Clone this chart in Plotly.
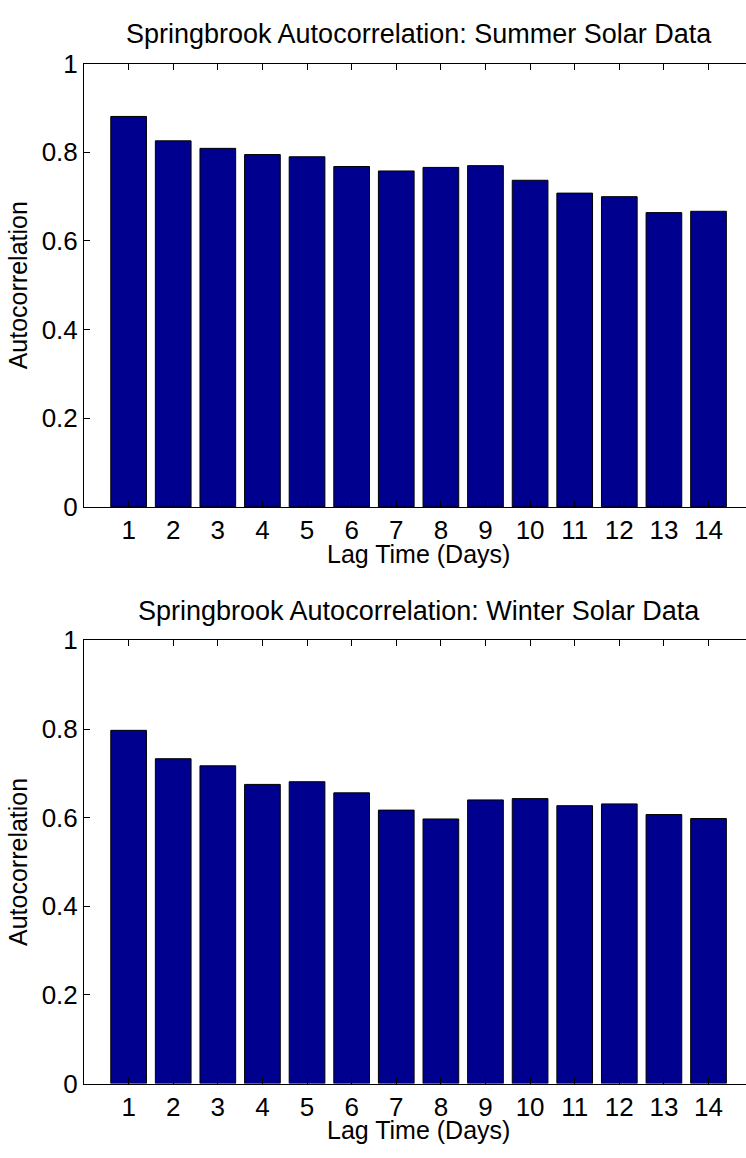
import plotly.graph_objects as go

lags = list(range(1, 15))
summer_acf = [0.881, 0.826, 0.809, 0.795, 0.790, 0.768, 0.758, 0.766, 0.770, 0.737, 0.708, 0.700, 0.664, 0.667]
winter_acf = [0.797, 0.733, 0.717, 0.675, 0.681, 0.656, 0.617, 0.597, 0.640, 0.643, 0.627, 0.631, 0.607, 0.598]
y_ticks = [0, 0.2, 0.4, 0.6, 0.8, 1]
y_tick_text = ["0", "0.2", "0.4", "0.6", "0.8", "1"]
titles = ["Springbrook Autocorrelation: Summer Solar Data",
          "Springbrook Autocorrelation: Winter Solar Data"]
x_title = "Lag Time (Days)"
y_title = "Autocorrelation"

W, H = 746, 1158
FONT = "Liberation Sans, Arial, Helvetica, sans-serif"
FS = 25
FS_TICK = 26
FS_TITLE = 27
BAR = "#00008F"

def py(p):
    return 1 - p / H

fig = go.Figure()
fig.add_trace(go.Bar(x=lags, y=summer_acf, width=0.8, marker=dict(color=BAR, line=dict(color="black", width=1)),
                     xaxis="x", yaxis="y", showlegend=False))
fig.add_trace(go.Bar(x=lags, y=winter_acf, width=0.8, marker=dict(color=BAR, line=dict(color="black", width=1)),
                     xaxis="x2", yaxis="y2", showlegend=False))

xcommon = dict(range=[0, 14.84], tickmode="array", tickvals=lags, ticktext=[str(v) for v in lags],
               ticks="inside", ticklen=6, tickcolor="black", showline=True, linecolor="black", linewidth=1,
               mirror="ticks", showgrid=False, zeroline=False, domain=[84 / W, 1],
               tickfont=dict(family=FONT, size=FS_TICK, color="black"))
ycommon = dict(range=[0, 1], tickmode="array", tickvals=y_ticks, ticktext=y_tick_text,
               ticks="inside", ticklen=6, tickcolor="black", showline=True, linecolor="black", linewidth=1,
               mirror=False, showgrid=False, zeroline=False,
               tickfont=dict(family=FONT, size=FS_TICK, color="black"))

top = (50, 505)
bot = (642, 1097)

fig.update_layout(
    width=W, height=H, margin=dict(l=0, r=0, t=0, b=0),
    paper_bgcolor="white", plot_bgcolor="white", bargap=0.2,
    xaxis=dict(**xcommon, anchor="y"),
    yaxis=dict(**ycommon, anchor="x", domain=[py(top[1]), py(top[0])]),
    xaxis2=dict(**xcommon, anchor="y2"),
    yaxis2=dict(**ycommon, anchor="x2", domain=[py(bot[1]), py(bot[0])]),
)

xc = (84 + 84 + 15 * 44.6) / 2 / W
ann = []
for (t0, t1), ttl in zip([top, bot], titles):
    ann.append(dict(text=ttl, x=xc, y=py(t0 - 30), xref="paper", yref="paper", xanchor="center",
                    yanchor="middle", showarrow=False, font=dict(family=FONT, size=FS_TITLE, color="black")))
    ann.append(dict(text=x_title, x=xc, y=py(t1 + 48), xref="paper", yref="paper", xanchor="center",
                    yanchor="middle", showarrow=False, font=dict(family=FONT, size=FS, color="black")))
    ann.append(dict(text=y_title, x=18 / W, y=py((t0 + t1) / 2), xref="paper", yref="paper", xanchor="center",
                    yanchor="middle", textangle=-90, showarrow=False, font=dict(family=FONT, size=FS, color="black")))
fig.update_layout(annotations=ann)

fig.write_html("out.html")
